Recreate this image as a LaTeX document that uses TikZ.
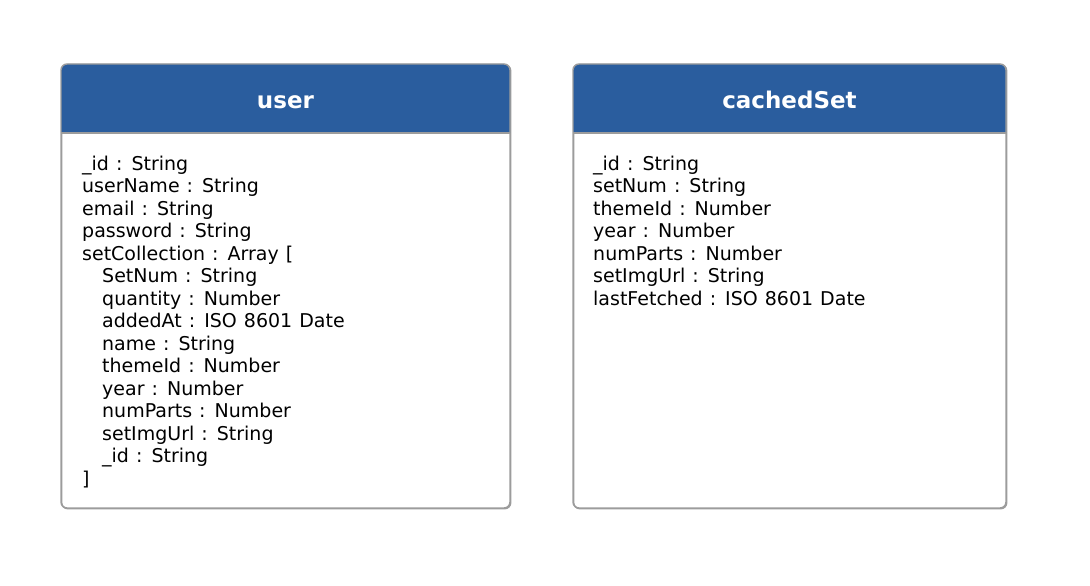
\documentclass[tikz,border=0pt]{standalone}
\usepackage{fontspec}
\setmainfont{DejaVu Sans}
\definecolor{headblue}{HTML}{2A5D9E}
\definecolor{bordergray}{HTML}{9C9C9C}
\newcommand{\widespaces}{\spaceskip=0.37em\relax}
\begin{document}
\begin{tikzpicture}[x=1pt,y=-1pt,
  entitybox/.style={draw=bordergray, line width=1.4pt, rounded corners=6pt, fill=white, anchor=north west, inner sep=0pt},
  titletext/.style={text=white, font=\fontsize{23}{27}\selectfont\bfseries, anchor=base, inner sep=0pt},
  fieldtext/.style={font=\fontsize{19}{22.5}\selectfont\widespaces, align=left, anchor=north west, inner sep=0pt}]
\useasboundingbox (0,0) rectangle (1090,586);
% user box
\node[entitybox, minimum width=449pt, minimum height=444pt] (user) at (61,64) {};
\fill[headblue] (61,133) [rounded corners=6pt] -- (61,64) -- (510,64) [sharp corners] -- (510,133) -- cycle;
\draw[bordergray, line width=1.4pt, rounded corners=6pt] (61,64) rectangle (510,508);
\draw[bordergray, line width=1.2pt] (61,133) -- (510,133);
\node[titletext] (usertitle) at (285.5,108.5) {user};
\node[fieldtext] (userfields) at (82,155.5) {\_id : String\\
userName : String\\
email : String\\
password : String\\
setCollection : Array [\\
\hspace*{20pt}SetNum : String\\
\hspace*{20pt}quantity : Number\\
\hspace*{20pt}addedAt : ISO 8601 Date\\
\hspace*{20pt}name : String\\
\hspace*{20pt}themeId : Number\\
\hspace*{20pt}year : Number\\
\hspace*{20pt}numParts : Number\\
\hspace*{20pt}setImgUrl : String\\
\hspace*{20pt}\_id : String\\
]};
% cachedSet box
\node[entitybox, minimum width=433pt, minimum height=444pt] (cached) at (573,64) {};
\fill[headblue] (573,133) [rounded corners=6pt] -- (573,64) -- (1006,64) [sharp corners] -- (1006,133) -- cycle;
\draw[bordergray, line width=1.4pt, rounded corners=6pt] (573,64) rectangle (1006,508);
\draw[bordergray, line width=1.2pt] (573,133) -- (1006,133);
\node[titletext] (cachedtitle) at (789.5,108.5) {cachedSet};
\node[fieldtext] (cachedfields) at (593,155.5) {\_id : String\\
setNum : String\\
themeId : Number\\
year : Number\\
numParts : Number\\
setImgUrl : String\\
lastFetched : ISO 8601 Date};
\end{tikzpicture}
\end{document}
